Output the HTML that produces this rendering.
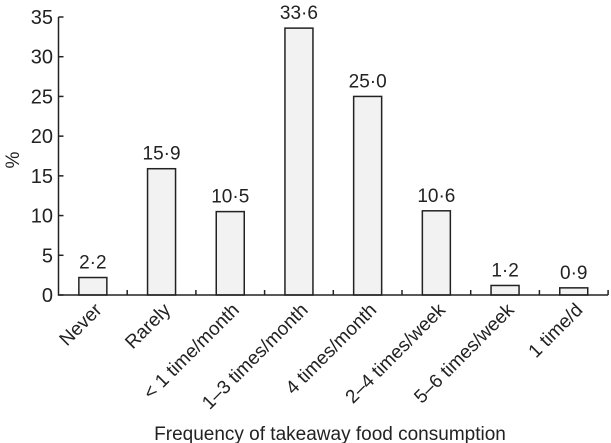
<!DOCTYPE html>
<html><head><meta charset="utf-8"><style>
html,body{margin:0;padding:0;background:#fff;}
svg{display:block;font-family:"Liberation Sans",Arial,sans-serif;}
</style></head><body>
<svg id="chart" width="611" height="443">
<g id="marks"></g>
</svg>
<script>
const categories = ["Never","Rarely","< 1 time/month","1\u20133 times/month","4 times/month","2\u20134 times/week","5\u20136 times/week","1 time/d"];
const values = [2.2,15.9,10.5,33.6,25.0,10.6,1.2,0.9];
const valueLabels = ["2\u00b72","15\u00b79","10\u00b75","33\u00b76","25\u00b70","10\u00b76","1\u00b72","0\u00b79"];
const yTicks = [0,5,10,15,20,25,30,35];

const NS="http://www.w3.org/2000/svg";
const g=document.getElementById('marks');
const x0=58.5, bandW=68.7, y0=295, yTop=17, yMax=35;
const yScale=v=>y0-(v/yMax)*(y0-yTop);
const xCenter=i=>x0+bandW*(i+0.5);
function mk(t,a){const e=document.createElementNS(NS,t);for(const k in a)e.setAttribute(k,a[k]);g.appendChild(e);return e;}

values.forEach((v,i)=>{
  const b=mk('rect',{x:xCenter(i)-14,y:yScale(v),width:28,height:y0-yScale(v),fill:'#f2f2f2',stroke:'#222','stroke-width':1.5});
  
  
  const t=mk('text',{x:xCenter(i),y:yScale(v)-9,'text-anchor':'middle','font-size':19,fill:'#222'});
  t.textContent=valueLabels[i];
  
  
  const c=mk('text',{x:0,y:0,'text-anchor':'end','font-size':19,fill:'#222',transform:`translate(${xCenter(i)+10},${y0+16}) rotate(-45)`});
  c.textContent=categories[i];
  
  
});
for(let i=1;i<=categories.length;i++){
  const tk=mk('line',{x1:x0+bandW*i,x2:x0+bandW*i,y1:y0,y2:y0-5,stroke:'#222','stroke-width':1.5});
  
  
}
yTicks.forEach(v=>{
  const l=mk('line',{x1:x0,x2:x0+5,y1:yScale(v),y2:yScale(v),stroke:'#222','stroke-width':1.5});
  
  
  const t=mk('text',{x:53,y:yScale(v)+7,'text-anchor':'end','font-size':20,fill:'#222'});
  t.textContent=v;
  
  
});
const ax=mk('path',{d:`M${x0},${yTop} V${y0} H${x0+bandW*categories.length}`,fill:'none',stroke:'#222','stroke-width':1.5});


const yt=mk('text',{x:0,y:0,'text-anchor':'middle','font-size':19,fill:'#222',transform:'translate(19,160) rotate(-90)'});
yt.textContent='%';


const xt=mk('text',{x:330,y:440,'text-anchor':'middle','font-size':19,fill:'#222'});
xt.textContent='Frequency of takeaway food consumption';


</script>
</body></html>
